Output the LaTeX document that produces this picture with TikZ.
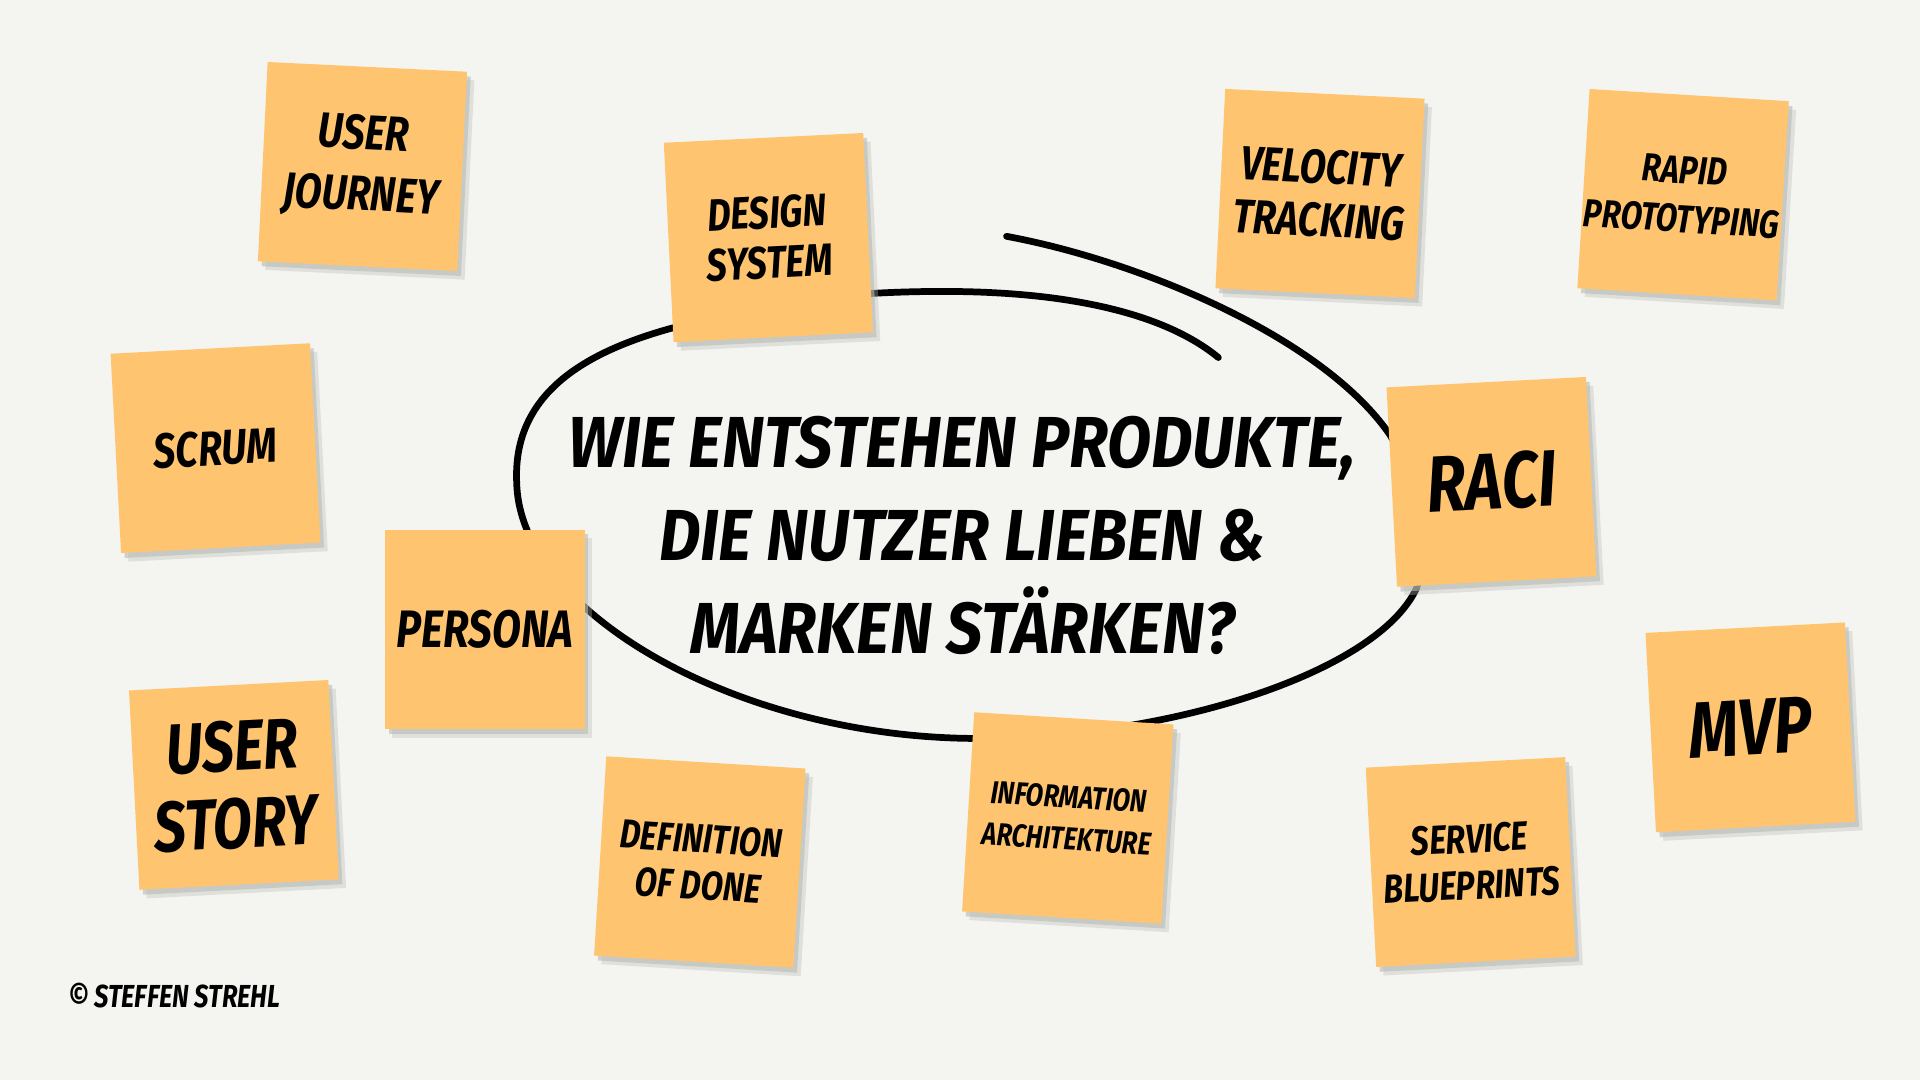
\documentclass[tikz,border=0pt]{standalone}
\usepackage{fontspec}
\newfontfamily\hand[FakeStretch=0.8]{Fira Sans}
\newfontfamily\handw[FakeStretch=0.89]{Fira Sans}
\definecolor{bgcol}{HTML}{F4F5F0}
\definecolor{notecol}{HTML}{FFC470}
\definecolor{shadowcol}{HTML}{B8BAB5}
\tikzset{
  note/.style={fill=notecol, minimum width=163pt, minimum height=163pt, inner sep=0pt, align=center},
  noteshadow/.style={fill=shadowcol, minimum width=163pt, minimum height=163pt, inner sep=0pt},
  loopline/.style={line width=5.5pt, line cap=round, black},
  handtxt/.style={font=\hand\bfseries\itshape},
}
\newcommand\sticky[7]{%
  \node[noteshadow, rotate=#4, opacity=0.35] (#1s2) at (#2+6,#3+7) {};
  \node[noteshadow, rotate=#4, opacity=0.6] (#1s) at (#2+3,#3+4) {};
  \node[note, rotate=#4, handtxt, font=\hand\bfseries\itshape\fontsize{#5}{#6}\selectfont] (#1) at (#2,#3) {#7};
}
\begin{document}
\begin{tikzpicture}[x=1pt,y=-1pt]
\fill[bgcol] (0,0) rectangle (1568,882);
\useasboundingbox (0,0) rectangle (1568,882);

% hand-drawn loop
\draw[loopline] (822,193)
  .. controls (930,213) and (1080,275) .. (1135,355)
  .. controls (1160,395) and (1168,440) .. (1157,480)
  .. controls (1125,550) and (950,605) .. (790,603)
  .. controls (600,600) and (425,500) .. (422,395)
  .. controls (418,320) and (480,285) .. (560,265)
  .. controls (620,245) and (700,238) .. (770,238)
  .. controls (870,238) and (950,255) .. (995,292);

\node[align=center, font=\handw\bfseries\itshape\fontsize{59}{76}\selectfont] (title) at (786,437)
  {WIE ENTSTEHEN PRODUKTE,\\DIE NUTZER LIEBEN \&\\MARKEN STÄRKEN?};

\sticky{uj}{296}{136}{-2.8}{40}{50}{USER\\JOURNEY}
\sticky{ds}{627.5}{194}{2.8}{37}{41}{DESIGN\\SYSTEM}
\sticky{vt}{1078}{158}{-2.8}{39}{43}{VELOCITY\\TRACKING}
\sticky{rp}{1374.5}{159}{-3.5}{32}{40}{RAPID\\PROTOTYPING}
\sticky{sc}{176}{366}{3}{40}{40}{SCRUM}
\sticky{ra}{1218}{393.5}{3}{65}{60}{RACI}
\sticky{pe}{396}{514}{0}{43}{40}{PERSONA}
\sticky{us}{191}{641}{3}{58}{63}{USER\\STORY}
\sticky{mv}{1429.5}{594}{3}{65}{60}{MVP}
\sticky{dd}{571.5}{704}{-3.5}{33}{38}{DEFINITION\\OF DONE}
\sticky{ia}{872}{668}{-3.5}{26}{34}{INFORMATION\\ARCHITEKTURE}
\sticky{sb}{1201}{704}{3}{33}{38}{SERVICE\\BLUEPRINTS}

\node[handtxt, font=\hand\bfseries\itshape\fontsize{26}{28}\selectfont, anchor=west] (copy) at (52,813) {© STEFFEN STREHL};
\end{tikzpicture}
\end{document}
